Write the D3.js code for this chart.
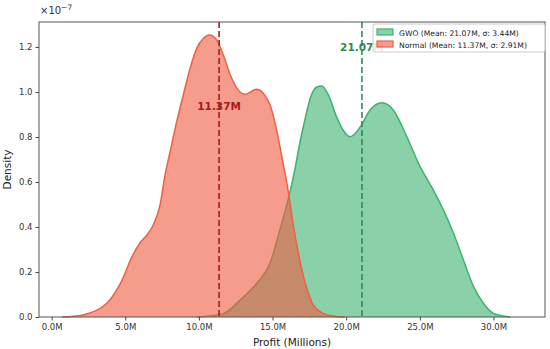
<!DOCTYPE html>
<html>
<head>
<meta charset="utf-8">
<script src="https://cdn.jsdelivr.net/npm/d3@7"></script>
<style>
  body { margin: 0; background: #fff; }
  text { font-family: "DejaVu Sans", sans-serif; }
</style>
</head>
<body>
<svg width="550" height="349"></svg>
<script>
// profit values in millions, density in units of 1e-7
const normalX = [0.7, 2.1, 3.76, 4.78, 5.45, 6.0, 6.54, 6.9, 7.36, 7.7, 8.04, 8.49, 8.94, 9.4, 9.85, 10.3, 10.7, 11.21, 11.66, 12.1, 12.79, 13.13, 13.9, 14.83, 15.29, 15.73, 16.07, 16.41, 16.87, 17.32, 17.77, 18.45, 19.2, 19.9];
const normalY = [0, 0.009, 0.062, 0.164, 0.267, 0.33, 0.37, 0.409, 0.498, 0.631, 0.734, 0.868, 0.987, 1.105, 1.194, 1.238, 1.253, 1.231, 1.164, 1.08, 1.0, 0.99, 1.012, 0.942, 0.826, 0.678, 0.557, 0.408, 0.245, 0.128, 0.053, 0.016, 0.003, 0];
const gwoX = [9.85, 11.66, 12.79, 13.93, 14.83, 15.51, 16.19, 16.53, 16.87, 17.21, 17.55, 18.0, 18.34, 18.79, 19.36, 19.8, 20.26, 20.94, 21.62, 22.42, 23.2, 24.12, 25.02, 25.92, 26.6, 27.28, 27.96, 28.64, 29.32, 30.0, 31.13];
const gwoY = [0, 0.015, 0.075, 0.15, 0.24, 0.39, 0.557, 0.661, 0.78, 0.881, 0.97, 1.022, 1.027, 0.987, 0.887, 0.83, 0.801, 0.843, 0.92, 0.952, 0.92, 0.801, 0.668, 0.564, 0.476, 0.373, 0.253, 0.136, 0.061, 0.016, 0];
const means = [21.07, 11.37];
const sds = [3.44, 2.91];
const seriesNames = ["GWO", "Normal"];
const xTicks = [0, 5, 10, 15, 20, 25, 30];
const yTicks = [0, 0.2, 0.4, 0.6, 0.8, 1.0, 1.2];

const svg = d3.select("svg");
const mLeft = 39, mRight = 545, mTop = 22, mBottom = 317;

const x = d3.scaleLinear().domain([-0.86, 33.5]).range([mLeft, mRight]);
const y = d3.scaleLinear().domain([0, 1.311]).range([mBottom, mTop]);

const lineCol = ["#3cb371", "#f0603f"];
const fillCol = ["#3cb371", "#f05a40"];
const meanCol = ["#2e8b57", "#a51c1c"];

const series = [
  gwoX.map((v, i) => [v, gwoY[i]]),
  normalX.map((v, i) => [v, normalY[i]])
];

const area = d3.area()
  .x(d => x(d[0])).y0(y(0)).y1(d => y(d[1]))
  .curve(d3.curveMonotoneX);
const line = d3.line()
  .x(d => x(d[0])).y(d => y(d[1]))
  .curve(d3.curveMonotoneX);

// density fills
series.forEach((s, i) => {
  svg.append("path").attr("d", area(s))
    .attr("fill", fillCol[i]).attr("fill-opacity", 0.6);
  svg.append("path").attr("d", line(s))
    .attr("fill", "none").attr("stroke", lineCol[i]).attr("stroke-width", 1.5);
});

// mean lines + labels
means.forEach((m, i) => {
  svg.append("line")
    .attr("x1", x(m)).attr("x2", x(m))
    .attr("y1", mTop).attr("y2", mBottom)
    .attr("stroke", meanCol[i]).attr("stroke-width", 1.6)
    .attr("stroke-dasharray", "6,3");
});
svg.append("text").attr("x", x(means[1])).attr("y", 110)
  .attr("text-anchor", "middle").attr("font-size", 10.5).attr("font-weight", "bold")
  .attr("fill", meanCol[1]).text(means[1].toFixed(2) + "M");
svg.append("text").attr("x", x(means[0])).attr("y", 51)
  .attr("text-anchor", "middle").attr("font-size", 10.5).attr("font-weight", "bold")
  .attr("fill", meanCol[0]).text(means[0].toFixed(2) + "M");

// axes
const xAxis = svg.append("g").attr("transform", `translate(0,${mBottom})`)
  .call(d3.axisBottom(x).tickValues(xTicks).tickFormat(d => d.toFixed(1) + "M").tickSizeOuter(0).tickSize(3.5));
const yAxis = svg.append("g").attr("transform", `translate(${mLeft},0)`)
  .call(d3.axisLeft(y).tickValues(yTicks).tickFormat(d3.format(".1f")).tickSizeOuter(0).tickSize(3.5));
[xAxis, yAxis].forEach(g => {
  g.select(".domain").remove();
  g.selectAll("line").attr("stroke", "#444");
  g.selectAll("text").attr("fill", "#333").attr("font-size", 8.5)
    .attr("font-family", "DejaVu Sans, sans-serif");
});

// frame
svg.append("rect").attr("x", mLeft).attr("y", mTop)
  .attr("width", mRight - mLeft).attr("height", mBottom - mTop)
  .attr("fill", "none").attr("stroke", "#555").attr("stroke-width", 1);

// labels
svg.append("text").attr("x", (mLeft + mRight) / 2).attr("y", 346)
  .attr("text-anchor", "middle").attr("font-size", 10.5).attr("fill", "#222")
  .text("Profit (Millions)");
svg.append("text").attr("transform", `translate(11,${(mTop + mBottom) / 2}) rotate(-90)`)
  .attr("text-anchor", "middle").attr("font-size", 10.5).attr("fill", "#222")
  .text("Density");
const expo = svg.append("text").attr("x", 40).attr("y", 14)
  .attr("font-size", 10).attr("fill", "#333");
expo.append("tspan").text("×10");
expo.append("tspan").attr("dy", -4).attr("font-size", 7.5).text("−7");

// legend
const lg = svg.append("g").attr("transform", "translate(373,24)");
lg.append("rect").attr("width", 172).attr("height", 28).attr("rx", 2)
  .attr("fill", "#fff").attr("fill-opacity", 0.85).attr("stroke", "#ccc");
seriesNames.forEach((name, i) => {
  const row = lg.append("g").attr("transform", `translate(4,${5 + i * 12})`);
  row.append("rect").attr("width", 16).attr("height", 6)
    .attr("fill", fillCol[i]).attr("fill-opacity", 0.6)
    .attr("stroke", lineCol[i]).attr("stroke-width", 1.2);
  row.append("text").attr("x", 22).attr("y", 6.5)
    .attr("font-size", 7.6).attr("fill", "#222")
    .text(`${name} (Mean: ${means[i].toFixed(2)}M, σ: ${sds[i].toFixed(2)}M)`);
});
</script>
</body>
</html>
